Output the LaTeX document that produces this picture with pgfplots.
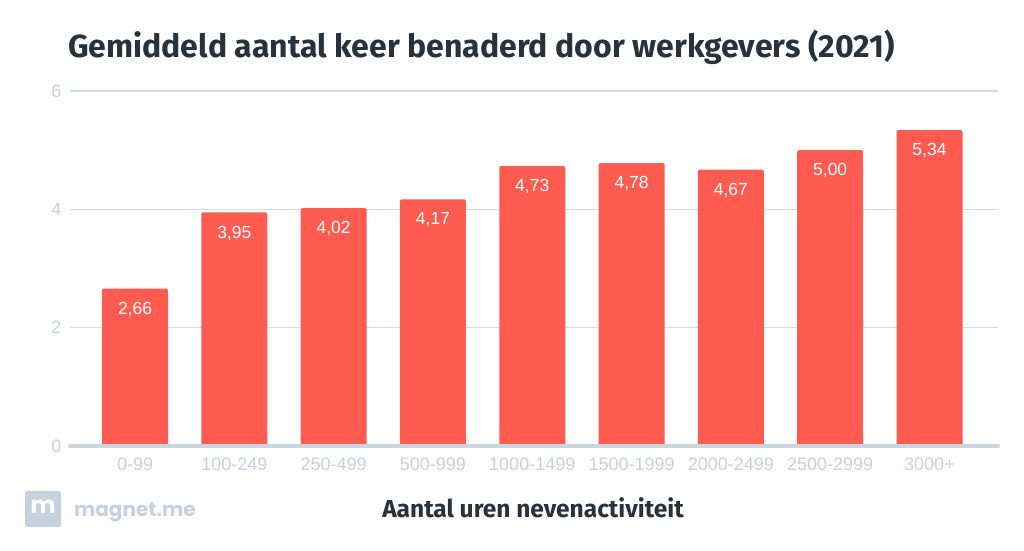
\documentclass[border=0pt]{standalone}
\usepackage{pgfplots}
\pgfplotsset{compat=1.18}
\usepackage{fontspec}
\setmainfont{Liberation Sans}
\newfontfamily\fira{Fira Sans}
\newfontfamily\pop{Poppins}

\definecolor{barred}{HTML}{FF5B50}
\definecolor{gridc}{HTML}{D3DCE5}
\definecolor{axisc}{HTML}{CBD5DF}
\definecolor{tickc}{HTML}{C5D1DC}
\definecolor{titlec}{HTML}{26333D}

\begin{document}
\begin{tikzpicture}
\path[use as bounding box] (0,0) rectangle (1024bp,551bp);
\begin{axis}[
  at={(70bp,105bp)}, anchor=south west,
  scale only axis,
  width=928bp, height=355bp,
  xmin=-0.655, xmax=8.69,
  ymin=0, ymax=6,
  axis line style={draw=none},
  xtick pos=bottom, ytick pos=left,
  ytick={0,2,4,6},
  xtick=data,
  xticklabels={0-99,100-249,250-499,500-999,1000-1499,1500-1999,2000-2499,2500-2999,3000+},
  ymajorgrids=true,
  grid style={gridc, line width=1.4bp},
  major tick length=0pt,
  tick label style={font=\fontsize{18bp}{20bp}\selectfont, text=tickc},
  xticklabel style={yshift=-8bp},
  yticklabel style={xshift=-5bp},
  /pgf/number format/assume math mode=true,
  clip=false,
  ybar, bar width=66bp,
  nodes near coords={\pgfmathprintnumber[fixed,fixed zerofill,precision=2,use comma]{\pgfplotspointmeta}},
  nodes near coords style={anchor=north, yshift=-10bp, text=white, font=\fontsize{17.5bp}{19bp}\selectfont},
]
\addplot[fill=barred, draw=none, rounded corners=1.5bp] coordinates {
(0,2.66) (1,3.95) (2,4.02) (3,4.17) (4,4.73) (5,4.78) (6,4.67) (7,5.00) (8,5.34)
};
\draw[axisc, line width=4bp, line cap=round] (rel axis cs:0,0) -- (rel axis cs:1,0);
\end{axis}
\node[anchor=base west, inner sep=0, text=titlec, font=\fira\bfseries\fontsize{32bp}{36bp}\selectfont] at (68bp,493bp) {Gemiddeld aantal keer benaderd door werkgevers (2021)};
\node[anchor=base, inner sep=0, text=titlec, font=\fira\bfseries\fontsize{24.5bp}{27bp}\selectfont] at (533bp,34bp) {Aantal uren nevenactiviteit};
\fill[tickc, rounded corners=2bp] (25bp,24bp) rectangle (61bp,60bp);
\node[text=white, font=\pop\bfseries\fontsize{24bp}{26bp}\selectfont, inner sep=0] at (43bp,44bp) {m};
\node[anchor=base west, inner sep=0, text=tickc, font=\pop\bfseries\fontsize{20bp}{22bp}\selectfont] at (74bp,35bp) {magnet.me};
\end{tikzpicture}
\end{document}
